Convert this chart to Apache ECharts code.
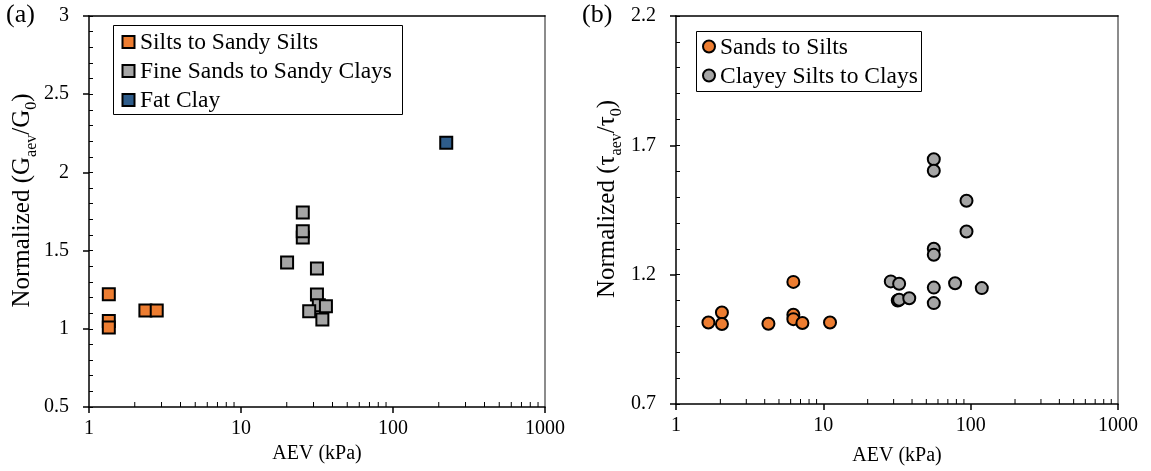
<!DOCTYPE html>
<html><head><meta charset="utf-8">
<script src="https://cdn.jsdelivr.net/npm/echarts@6/dist/echarts.min.js"></script>
<style>html,body{margin:0;padding:0;background:#fff}#c{width:1151px;height:471px}</style>
</head><body><div id="c"></div>
<script>
// ---- data (AEV kPa, normalized value) ----
const siltsToSandySilts = [[1.35,1.221],[1.35,1.05],[1.35,1.008],[2.35,1.117],[2.79,1.117]];
const fineSandsToSandyClays = [[25.5,1.744],[25.5,1.584],[25.5,1.624],[20.1,1.424],[31.6,1.385],[31.6,1.219],[32.5,1.15],[36.2,1.144],[28.1,1.112],[34.3,1.059]];
const fatClay = [[224,2.189]];
const sandsToSilts = [[1.66,1.015],[2.05,1.054],[2.05,1.009],[4.24,1.010],[6.26,1.172],[6.26,1.045],[6.26,1.028],[7.21,1.013],[11.1,1.015]];
const clayeySiltsToClays = [[56.2,1.646],[56.2,1.602],[93.7,1.486],[93.7,1.367],[56.2,1.30],[56.2,1.277],[28.7,1.174],[32.7,1.165],[78.4,1.167],[56.2,1.15],[119,1.148],[32.0,1.100],[32.7,1.103],[38.3,1.109],[56.2,1.09]];
const xMinorTicks = [2,3,4,5,6,7,8,9,20,30,40,50,60,70,80,90,200,300,400,500,600,700,800,900];
const yTicksB = [0.7,1.2,1.7,2.2];
const yMinorB = [0.7,0.8,0.9,1.0,1.1,1.2,1.3,1.4,1.5,1.6,1.7,1.8,1.9,2.0,2.1,2.2];
const legendA = ['Silts to Sandy Silts', 'Fine Sands to Sandy Clays', 'Fat Clay'];
const legendB = ['Sands to Silts', 'Clayey Silts to Clays'];
const colorsA = ['#ED7D31', '#A5A5A5', '#2E5C8A'];
const colorsB = ['#ED7D31', '#A5A5A5'];

const FONT = 'Liberation Serif';
const tStyle = {fontFamily: FONT, fontSize: 20, color: '#000'};
const chart = echarts.init(document.getElementById('c'));

function xAxes(gi, nameGap, labelMargin){
  return [
    {gridIndex: gi, type: 'log', logBase: 10, min: 1, max: 1000, position: 'bottom',
     name: 'AEV (kPa)', nameLocation: 'middle', nameGap: nameGap, nameTextStyle: tStyle,
     axisLine: {show: true, onZero: false, lineStyle: {color: '#000', width: 1.5}},
     axisTick: {show: true, inside: false, length: 6, lineStyle: {color: '#000', width: 1.5}},
     axisLabel: Object.assign({margin: labelMargin, formatter: function(v){ return String(Math.round(v)); }}, tStyle),
     splitLine: {show: false}},
    {gridIndex: gi, type: 'log', logBase: 10, min: 1, max: 1000, position: 'top',
     axisLine: {show: true, onZero: false, lineStyle: {color: '#000', width: 1.5}},
     axisTick: {show: false}, axisLabel: {show: false}, splitLine: {show: false}}
  ];
}

function minorTickSeries(xi, yi, yMin){
  return {type: 'custom', xAxisIndex: xi, yAxisIndex: yi, silent: true, clip: false, z: 10,
    data: xMinorTicks.map(function(v){ return [v, yMin]; }),
    renderItem: function(params, api){
      const p = api.coord([api.value(0), api.value(1)]);
      return {type: 'line', shape: {x1: p[0], y1: p[1], x2: p[0], y2: p[1] - 5}, style: {stroke: '#000', lineWidth: 1}};
    }};
}

// legend drawn as graphic group (box, icons, serif text)
function legendGroup(names, colors, shape, box, rowYs, iconCx, textX){
  const children = [{type: 'rect', shape: {x: box[0], y: box[1], width: box[2], height: box[3]},
    style: {fill: '#fff', stroke: '#000', lineWidth: 1}}];
  names.forEach(function(n, i){
    const cy = rowYs[i];
    if (shape === 'rect') {
      children.push({type: 'rect', shape: {x: iconCx - 6, y: cy - 6, width: 12, height: 12},
        style: {fill: colors[i], stroke: '#000', lineWidth: 2}});
    } else {
      children.push({type: 'circle', shape: {cx: iconCx, cy: cy, r: 6},
        style: {fill: colors[i], stroke: '#000', lineWidth: 2}});
    }
    children.push({type: 'text', style: {text: n, x: textX, y: cy + 1, fontFamily: FONT, fontSize: 23.5,
      fill: '#000', verticalAlign: 'middle', align: 'left'}});
  });
  return {type: 'group', z: 100, children: children};
}

const subRich = {sub: {fontFamily: FONT, fontSize: 16, color: '#000', verticalAlign: 'bottom', lineHeight: 36}};

const option = {
  animation: false,
  backgroundColor: '#fff',
  textStyle: {fontFamily: FONT, color: '#000'},
  grid: [
    {left: 89, top: 16, right: 606, bottom: 64},
    {left: 676, top: 16, right: 33, bottom: 67}
  ],
  xAxis: [].concat(xAxes(0, 30, 12), xAxes(1, 42, 12)),
  yAxis: [
    {gridIndex: 0, type: 'value', min: 0.5, max: 3, interval: 0.5, position: 'left',
     name: 'Normalized (G{sub|aev}/G{sub|0})', nameLocation: 'middle', nameGap: 45,
     nameTextStyle: {fontFamily: FONT, fontSize: 25, color: '#000', padding: [0, 0, 0, 22], rich: subRich},
     axisLine: {show: true, onZero: false, lineStyle: {color: '#000', width: 1.5}},
     axisTick: {show: true, inside: false, length: 6, lineStyle: {color: '#000', width: 1.5}},
     axisLabel: Object.assign({margin: 20}, tStyle), splitLine: {show: false}},
    {gridIndex: 0, type: 'value', min: 0.5, max: 3, interval: 0.1, position: 'left',
     axisLine: {show: false}, axisTick: {show: true, inside: true, length: 4, lineStyle: {color: '#000', width: 1}},
     axisLabel: {show: false}, splitLine: {show: false}},
    {gridIndex: 0, type: 'value', min: 0.5, max: 3, position: 'right',
     axisLine: {show: true, onZero: false, lineStyle: {color: '#8c8c8c', width: 2}},
     axisTick: {show: false}, axisLabel: {show: false}, splitLine: {show: false}},
    {gridIndex: 1, type: 'value', min: 0.7, max: 2.2, position: 'left',
     name: 'Normalized (\u03c4{sub|aev}/\u03c4{sub|0})', nameLocation: 'middle', nameGap: 51,
     nameTextStyle: {fontFamily: FONT, fontSize: 25, color: '#000', padding: [0, 0, 0, 22], rich: subRich},
     axisLine: {show: true, onZero: false, lineStyle: {color: '#000', width: 1.5}},
     axisTick: {show: true, inside: false, length: 6, customValues: yTicksB, lineStyle: {color: '#000', width: 1.5}},
     axisLabel: Object.assign({margin: 20, customValues: yTicksB}, tStyle), splitLine: {show: false}},
    {gridIndex: 1, type: 'value', min: 0.7, max: 2.2, position: 'left',
     axisLine: {show: false}, axisTick: {show: true, inside: true, length: 4, customValues: yMinorB, lineStyle: {color: '#000', width: 1}},
     axisLabel: {show: false}, splitLine: {show: false}},
    {gridIndex: 1, type: 'value', min: 0.7, max: 2.2, position: 'right',
     axisLine: {show: true, onZero: false, lineStyle: {color: '#8c8c8c', width: 2}},
     axisTick: {show: false}, axisLabel: {show: false}, splitLine: {show: false}}
  ],
  graphic: [
    {type: 'text', left: 6, top: 2, style: {text: '(a)', fontFamily: FONT, fontSize: 26, fill: '#000'}},
    {type: 'text', left: 582, top: 2, style: {text: '(b)', fontFamily: FONT, fontSize: 26, fill: '#000'}},
    legendGroup(legendA, colorsA, 'rect', [113.5, 25.5, 289, 89], [42, 71, 100], 128.5, 140),
    legendGroup(legendB, colorsB, 'circle', [696.5, 31.5, 225, 60], [46.5, 75.5], 709, 720)
  ],
  series: [
    minorTickSeries(0, 0, 0.5),
    minorTickSeries(2, 3, 0.7),
    {name: legendA[0], type: 'scatter', xAxisIndex: 0, yAxisIndex: 0, data: siltsToSandySilts,
     symbol: 'rect', symbolSize: 12, itemStyle: {color: colorsA[0], borderColor: '#000', borderWidth: 2, opacity: 1}},
    {name: legendA[1], type: 'scatter', xAxisIndex: 0, yAxisIndex: 0, data: fineSandsToSandyClays,
     symbol: 'rect', symbolSize: 12, itemStyle: {color: colorsA[1], borderColor: '#000', borderWidth: 2, opacity: 1}},
    {name: legendA[2], type: 'scatter', xAxisIndex: 0, yAxisIndex: 0, data: fatClay,
     symbol: 'rect', symbolSize: 12, itemStyle: {color: colorsA[2], borderColor: '#000', borderWidth: 2, opacity: 1}},
    {name: legendB[0], type: 'scatter', xAxisIndex: 2, yAxisIndex: 3, data: sandsToSilts,
     symbol: 'circle', symbolSize: 12, itemStyle: {color: colorsB[0], borderColor: '#000', borderWidth: 2, opacity: 1}},
    {name: legendB[1], type: 'scatter', xAxisIndex: 2, yAxisIndex: 3, data: clayeySiltsToClays,
     symbol: 'circle', symbolSize: 12, itemStyle: {color: colorsB[1], borderColor: '#000', borderWidth: 2, opacity: 1}}
  ]
};
chart.setOption(option);
</script>
</body></html>
